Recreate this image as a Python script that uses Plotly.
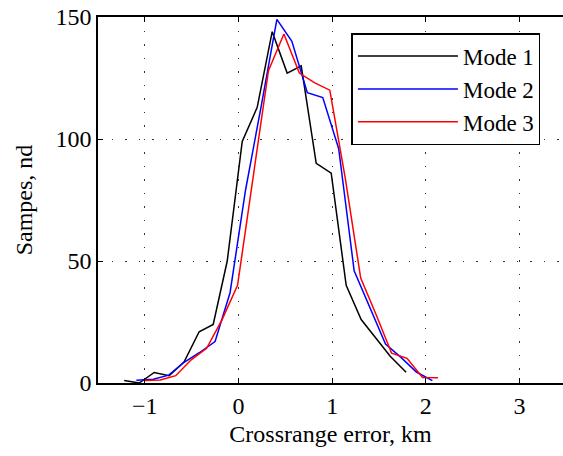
import plotly.graph_objects as go

# Mode 1
x_mode1 = [-1.22, -1.06, -0.90, -0.74, -0.58, -0.42, -0.27, -0.12, 0.04, 0.20,
           0.36, 0.52, 0.67, 0.83, 0.99, 1.15, 1.31, 1.47, 1.62, 1.79]
y_mode1 = [1, 0, 4.3, 3, 8.7, 21, 24, 50, 99, 113,
           144, 127, 130, 90, 86, 40, 26, 18, 11, 4.4]

# Mode 2
x_mode2 = [-1.09, -0.91, -0.745, -0.58, -0.415, -0.25, -0.09, 0.075, 0.245, 0.41,
           0.57, 0.735, 0.90, 1.07, 1.235, 1.40, 1.57, 1.735, 1.90, 2.07]
y_mode2 = [1.1, 1.5, 3.2, 8.5, 12.5, 17, 37, 79, 114, 149,
           140, 119, 117, 96, 46, 31, 16, 10.5, 4.5, 1]

# Mode 3
x_mode3 = [-1.0, -0.835, -0.67, -0.505, -0.34, -0.175, -0.01, 0.155, 0.32, 0.485,
           0.65, 0.815, 0.975, 1.14, 1.305, 1.47, 1.635, 1.80, 1.965, 2.13]
y_mode3 = [1, 1.2, 3, 9.5, 14.2, 26, 40, 85, 128, 143,
           127, 123, 120, 84, 43, 28, 12.2, 10.1, 2.3, 2.2]

x_ticks = [-1, 0, 1, 2, 3]
y_ticks = [0, 50, 100, 150]
series_names = ["Mode 1", "Mode 2", "Mode 3"]
series_colors = ["#000000", "#0000ff", "#ff0000"]

FONT = "Times New Roman"
FS = 24

fig = go.Figure()
for name, xs, ys, c in zip(series_names, [x_mode1, x_mode2, x_mode3],
                           [y_mode1, y_mode2, y_mode3], series_colors):
    fig.add_trace(go.Scatter(x=xs, y=ys, mode="lines", name=name,
                             line=dict(color=c, width=1.5)))

axis_common = dict(
    showline=True, linecolor="black", linewidth=1.5,
    ticks="inside", ticklen=5, tickwidth=1, tickcolor="black",
    showgrid=True, gridcolor="#333333", gridwidth=1, griddash="1.5px,12px",
    zeroline=False, automargin=False,
    tickfont=dict(family=FONT, size=FS, color="black"),
)

fig.update_xaxes(**axis_common, range=[-1.5, 3.465], tickvals=x_ticks,
                 mirror="ticks",
                 title=dict(text="Crossrange error, km",
                            font=dict(family=FONT, size=FS, color="black"),
                            standoff=8))
fig.update_yaxes(**axis_common, range=[0, 150], tickvals=y_ticks,
                 mirror=False,
                 title=dict(text="Sampes, nd",
                            font=dict(family=FONT, size=FS, color="black"),
                            standoff=16))

fig.update_layout(
    width=563, height=456,
    margin=dict(l=98, r=0, t=17, b=73),
    paper_bgcolor="white", plot_bgcolor="white",
    font=dict(family=FONT, color="black"),
    legend=dict(x=0.545, y=0.956, xanchor="left", yanchor="top",
                bgcolor="white", bordercolor="black", borderwidth=1.5,
                font=dict(family=FONT, size=23, color="black"),
                itemwidth=100, tracegroupgap=0),
)

fig.write_html("out.html", config={"displayModeBar": False},
               post_script="document.body.style.margin='0';document.body.style.padding='0';")
